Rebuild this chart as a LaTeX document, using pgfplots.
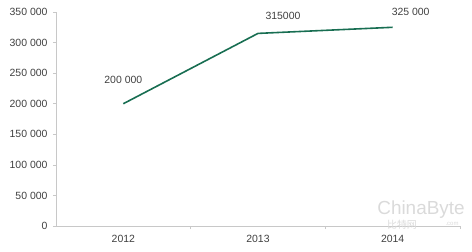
\documentclass[border=0pt]{standalone}
\usepackage{pgfplots}
\pgfplotsset{compat=1.18}
\usepackage{fontspec}
\setmainfont{Liberation Sans}
\newfontfamily\cjk{Noto Sans CJK SC}
\definecolor{linegreen}{RGB}{24,110,82}
\definecolor{axgray}{RGB}{200,200,200}
\definecolor{txtgray}{RGB}{64,64,64}
\definecolor{wm}{RGB}{218,218,218}
\begin{document}
\begin{tikzpicture}
\useasboundingbox (0,0) rectangle (472bp,252bp);
\begin{axis}[
  at={(56bp,26bp)}, anchor=south west,
  scale only axis,
  width=404bp, height=214bp,
  xmin=-0.5, xmax=2.5,
  ymin=0, ymax=350000,
  axis lines*=left,
  axis line style={axgray, line width=1pt},
  every tick/.style={axgray, line width=0.6pt},
  tick align=outside,
  major tick length=3bp,
  xtick={0.5,1.5,2.5},
  xticklabels={},
  extra x ticks={0,1,2},
  extra x tick labels={2012,2013,2014},
  extra x tick style={major tick length=0pt},
  ytick={0,50000,100000,150000,200000,250000,300000,350000},
  yticklabels={0,50 000,100 000,150 000,200 000,250 000,300 000,350 000},
  scaled y ticks=false,
  tick label style={font=\fontsize{10.5}{12}\selectfont, text=txtgray},
  yticklabel style={xshift=-2bp},
  xticklabel style={yshift=-6bp},
  /pgf/number format/assume math mode=true,
  clip=false,
]
\addplot[linegreen, line width=1.6pt] coordinates {(0,200000) (1,315000) (2,325000)};
\node[text=txtgray, font=\fontsize{10.5}{12}\selectfont] at (axis cs:0,200000) [yshift=24bp] {200 000};
\node[text=txtgray, font=\fontsize{10.5}{12}\selectfont] at (axis cs:1,315000) [xshift=25bp, yshift=18bp] {315000};
\node[text=txtgray, font=\fontsize{10.5}{12}\selectfont] at (axis cs:2,325000) [xshift=18bp, yshift=15bp] {325 000};
\end{axis}
\node[text=wm, inner sep=0pt, font=\fontsize{19}{20}\selectfont, anchor=center] at (421bp,42bp) {ChinaByte};
\node[text=wm, inner sep=0pt, font=\cjk\fontsize{10}{11}\selectfont, anchor=center] at (402bp,27bp) {比特网};
\node[text=wm, inner sep=0pt, font=\fontsize{6}{7}\selectfont, anchor=center] at (452bp,28bp) {.com};
\end{tikzpicture}
\end{document}
